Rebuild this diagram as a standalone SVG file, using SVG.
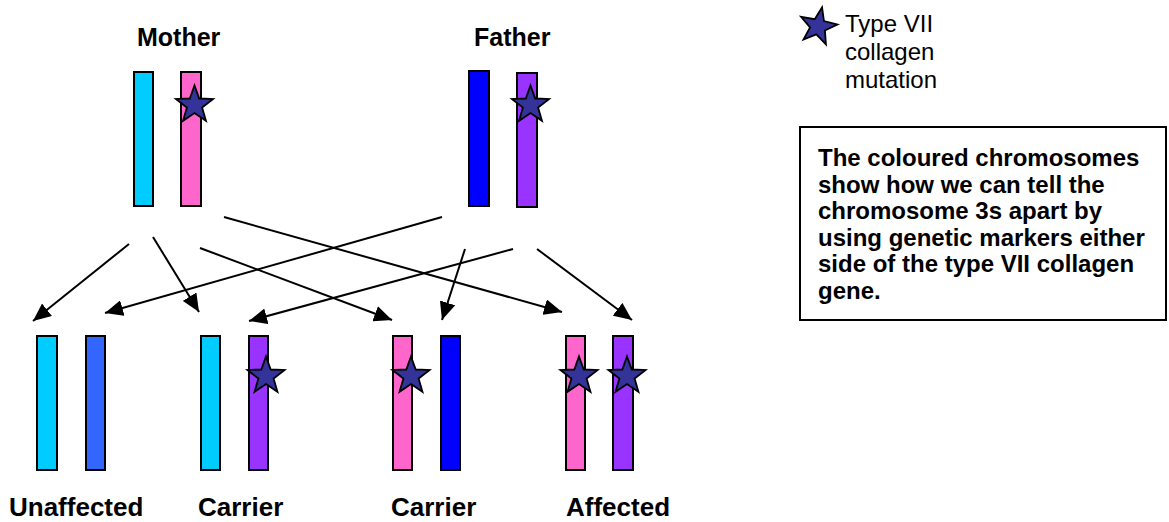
<svg xmlns="http://www.w3.org/2000/svg" width="1169" height="522" viewBox="0 0 1169 522">
  <style>
    .chr { stroke: #000; stroke-width: 2; }
    .cyan { fill: #00CCFF; }
    .pink { fill: #FF66CC; }
    .blue { fill: #0000FF; }
    .lblue { fill: #3366FF; }
    .purple { fill: #9933FF; }
    .star { fill: #333399; stroke: #000; stroke-width: 1.8; stroke-linejoin: miter; }
    .lbl { font-family: "Liberation Sans", Arial, sans-serif; font-weight: bold; font-size: 25px; fill: #000; }
    .sub { font-size: 26px; }
    .legend { font-family: "Liberation Sans", Arial, sans-serif; font-size: 24px; fill: #000; }
    .note { font-family: "Liberation Sans", Arial, sans-serif; font-weight: bold; font-size: 24px; fill: #000; }
    .arr { stroke: #000; stroke-width: 2; fill: none; marker-end: url(#head); }
  </style>
  <defs>
    <marker id="head" markerUnits="userSpaceOnUse" markerWidth="19" markerHeight="16" refX="18" refY="8" orient="auto">
      <path d="M0,0 L18,8 L0,16 Z" fill="#000"/>
    </marker>
    <path id="mut" d="M0,-19.5 L4.7,-6.5 L18.55,-6.03 L7.6,2.47 L11.46,15.78 L0,8 L-11.46,15.78 L-7.6,2.47 L-18.55,-6.03 L-4.7,-6.5 Z"/>
  </defs>

  <rect width="1169" height="522" fill="#fff"/>

  <!-- parents -->
  <g id="mother">
    <text class="lbl" x="137" y="46">Mother</text>
    <rect class="chr cyan" x="134" y="72" width="19" height="134"/>
    <rect class="chr pink" x="181" y="72" width="20" height="134"/>
    <use href="#mut" class="star" x="194.5" y="105"/>
  </g>
  <g id="father">
    <text class="lbl" x="474" y="46">Father</text>
    <rect class="chr blue" x="469" y="71" width="20" height="135"/>
    <rect class="chr purple" x="517" y="73" width="20" height="134"/>
    <use href="#mut" class="star" x="530.5" y="105"/>
  </g>

  <!-- inheritance arrows -->
  <g id="connectors">
    <line class="arr" x1="129" y1="244" x2="33" y2="321"/>
    <line class="arr" x1="153" y1="237" x2="199" y2="312"/>
    <line class="arr" x1="200" y1="248" x2="392" y2="320"/>
    <line class="arr" x1="224" y1="217" x2="562" y2="312"/>
    <line class="arr" x1="442" y1="217" x2="105" y2="313"/>
    <line class="arr" x1="465" y1="249" x2="442" y2="320"/>
    <line class="arr" x1="513" y1="249" x2="249" y2="321"/>
    <line class="arr" x1="537" y1="249" x2="632" y2="320"/>
  </g>

  <!-- children -->
  <g id="child-unaffected">
    <rect class="chr cyan" x="37" y="336" width="20" height="134"/>
    <rect class="chr lblue" x="86" y="336" width="19" height="134"/>
    <text class="lbl sub" x="9" y="516">Unaffected</text>
  </g>
  <g id="child-carrier-1">
    <rect class="chr cyan" x="201" y="336" width="19" height="134"/>
    <rect class="chr purple" x="249" y="336" width="19" height="134"/>
    <use href="#mut" class="star" x="266" y="376"/>
    <text class="lbl sub" x="198" y="516">Carrier</text>
  </g>
  <g id="child-carrier-2">
    <rect class="chr pink" x="393" y="336" width="19" height="134"/>
    <rect class="chr blue" x="441" y="336" width="19" height="134"/>
    <use href="#mut" class="star" x="411" y="376"/>
    <text class="lbl sub" x="391" y="516">Carrier</text>
  </g>
  <g id="child-affected">
    <rect class="chr pink" x="566" y="336" width="19" height="134"/>
    <rect class="chr purple" x="613" y="336" width="20" height="134"/>
    <use href="#mut" class="star" x="579" y="376"/>
    <use href="#mut" class="star" x="627" y="376"/>
    <text class="lbl sub" x="566" y="516">Affected</text>
  </g>

  <!-- key -->
  <g id="legend">
    <use href="#mut" class="star" transform="translate(818 26.5) rotate(12)"/>
    <text class="legend" x="845" y="32">Type VII</text>
    <text class="legend" x="845" y="60">collagen</text>
    <text class="legend" x="845" y="88">mutation</text>
  </g>

  <g id="note">
    <rect x="800" y="127" width="366" height="193" fill="#fff" stroke="#000" stroke-width="2"/>
    <text class="note" x="818">
      <tspan x="818" y="166">The coloured chromosomes</tspan>
      <tspan x="818" y="192.6">show how we can tell the</tspan>
      <tspan x="818" y="219.2">chromosome 3s apart by</tspan>
      <tspan x="818" y="245.8">using genetic markers either</tspan>
      <tspan x="818" y="272.4">side of the type VII collagen</tspan>
      <tspan x="818" y="299">gene.</tspan>
    </text>
  </g>
</svg>
